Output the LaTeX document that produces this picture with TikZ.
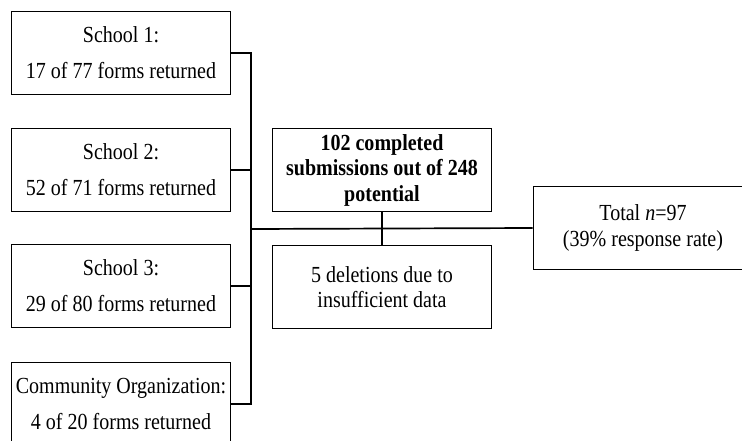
\documentclass[tikz,border=0pt]{standalone}
\usepackage{fontspec}
\setmainfont{Liberation Serif}[FakeStretch=0.87]
\begin{document}
\begin{tikzpicture}
          [x=1pt,y=-1pt,line width=1.7pt,every node/.style={draw,fill=white,align=center,
            minimum width=219pt,minimum height=83pt,inner sep=0pt,
            font=\fontsize{23}{25.5}\selectfont}]
          \useasboundingbox (0,0) rectangle (742,441);
          \clip (0,0) rectangle (742,441);
          \tikzset{school/.style={font=\fontsize{23}{36}\selectfont}}
          \node[school] (s1)  at (121,53)  {School 1:\\17 of 77 forms returned};
          \node[school] (s2)  at (121,170) {School 2:\\52 of 71 forms returned};
          \node[school] (s3)  at (121,286) {School 3:\\29 of 80 forms returned};
          \node[school] (org) at (121,404) {Community Organization:\\4 of 20 forms returned};
          \node (sub) at (382,170) {\bfseries 102 completed\\\bfseries submissions out of 248\\\bfseries potential};
          \node (del) at (382,287) {5 deletions due to\\insufficient data};
          \node (tot) at (643,228) {Total \textit{n}=97\\(39\% response rate)};
          \coordinate (bus) at (251,229);

          \foreach \from in {s1,s2,s3,org}
            \draw (\from.east) -| (bus);
          \foreach \from/\to in {bus/tot.west,sub/del}
            \draw (\from) -- (\to);

        \end{tikzpicture}
\end{document}
